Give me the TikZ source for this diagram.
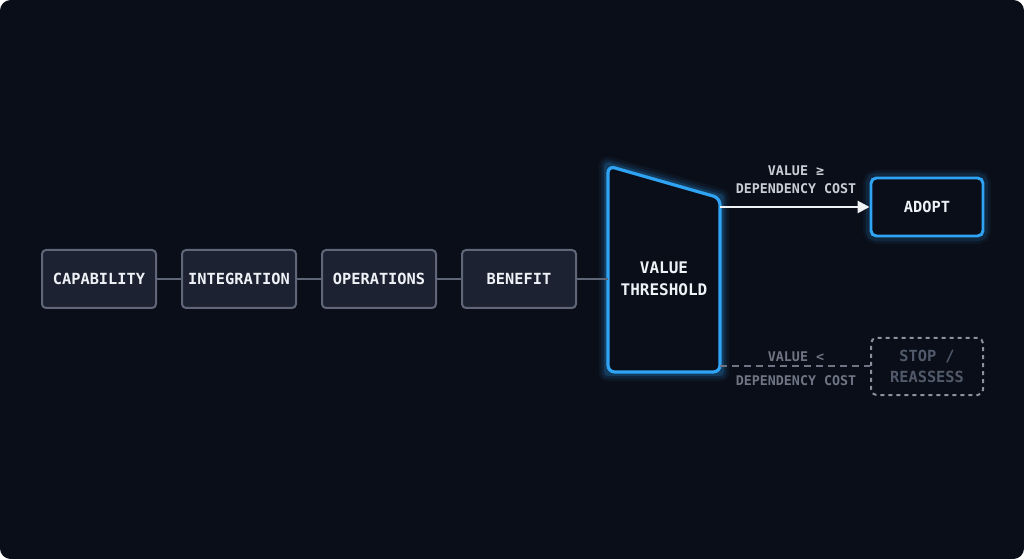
\documentclass[tikz,border=0pt]{standalone}
\usepackage{fontspec}
\setmainfont{DejaVu Sans Mono}
\usetikzlibrary{arrows.meta}
\definecolor{bg}{HTML}{0A0E18}
\definecolor{boxf}{HTML}{1C2232}
\definecolor{boxd}{HTML}{5E6677}
\definecolor{glow}{HTML}{2FA4F5}
\definecolor{txt}{HTML}{EEF1F5}
\definecolor{lbl}{HTML}{C9CED6}
\definecolor{dim}{HTML}{6E7584}
\begin{document}
\begin{tikzpicture}[x=0.75pt,y=-0.75pt,
  stage/.style={draw=boxd,line width=1.5pt,fill=boxf,rounded corners=3pt,minimum width=85.5pt,minimum height=43.5pt,text=txt,font=\bfseries\fontsize{11.5}{12}\selectfont,anchor=center},
  gbox/.style={draw=glow,line width=2.2pt,fill=bg,rounded corners=4pt,minimum width=84pt,minimum height=43.5pt,text=txt,font=\bfseries\fontsize{11.5}{12}\selectfont},
  dbox/.style={draw=dim!80,dashed,line width=1.5pt,rounded corners=4pt,minimum width=84pt,minimum height=42.75pt,text=dim!120,font=\bfseries\fontsize{11.5}{16}\selectfont,align=center},
  lab/.style={font=\bfseries\fontsize{10}{13.5}\selectfont,align=center},
  link/.style={draw=boxd,line width=1.5pt}]
\fill[bg,rounded corners=8pt] (0,0) rectangle (1024,559);
\useasboundingbox (0,0) rectangle (1024,559);
\node[stage] (cap) at (99,279) {CAPABILITY};
\node[stage] (int) at (239,279) {INTEGRATION};
\node[stage] (ops) at (379,279) {OPERATIONS};
\node[stage] (ben) at (519,279) {BENEFIT};
% trapezoid threshold
\coordinate (tl) at (608,166);
\coordinate (tr) at (720,198);
\coordinate (br) at (720,372);
\coordinate (bl) at (608,372);
\foreach \w/\o in {14/0.06,10/0.1,6/0.18}{
  \draw[glow,line width=\w pt,opacity=\o,line join=round] (tl)--(tr)--(br)--(bl)--cycle;}
\draw[glow,line width=2.4pt,fill=bg,rounded corners=5pt] (tl)--(tr)--(br)--(bl)--cycle;
\node[text=txt,font=\bfseries\fontsize{12}{16.5}\selectfont,align=center] (thr) at (664,279) {VALUE\\THRESHOLD};
\coordinate (thrin) at (608,279);
\draw[link] (cap)--(int); \draw[link] (int)--(ops); \draw[link] (ops)--(ben); \draw[link] (ben)--(thrin);
% adopt
\foreach \w/\o in {12/0.06,8/0.12}{
  \draw[glow,line width=\w pt,opacity=\o,rounded corners=4pt] (871,178) rectangle (983,236);}
\node[gbox] (adopt) at (927,207) {ADOPT};
\node[dbox] (stop) at (927,366.5) {STOP /\\REASSESS};
\coordinate (ya) at (720,207);
\coordinate (yb) at (720,366.5);
\draw[txt!90,line width=2pt,-{Triangle[length=9pt,width=9pt]}] (ya)--(adopt.west);
\draw[dim,line width=1.5pt,dash pattern=on 5pt off 4pt] (yb)--(stop.west);
\node[lab,text=lbl] at (796,180) {VALUE ≥\\DEPENDENCY COST};
\node[lab,text=dim,font=\bfseries\fontsize{10}{18}\selectfont] at (796,369) {VALUE <\\DEPENDENCY COST};
\end{tikzpicture}
\end{document}
